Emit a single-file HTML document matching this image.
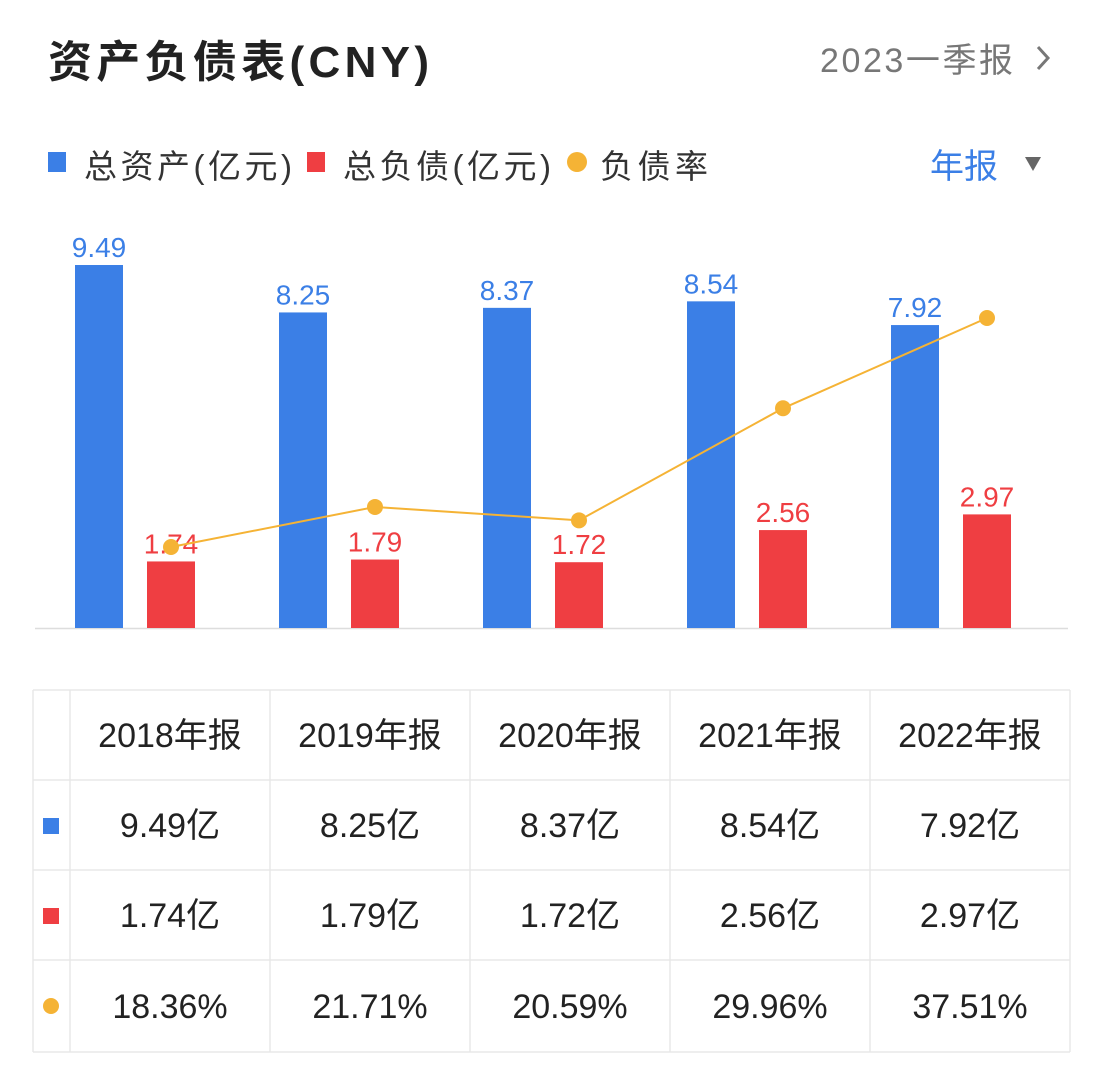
<!DOCTYPE html>
<html><head><meta charset="utf-8"><style>
body{margin:0;background:#fff;width:1096px;height:1077px;overflow:hidden;font-family:"Liberation Sans","Noto Sans CJK SC",sans-serif;}
svg{position:absolute;left:0;top:0;}
</style></head><body>
<svg id="s" width="1096" height="1077">
<text x="48" y="77" font-size="44" font-weight="bold" fill="#222" letter-spacing="1" textLength="382" font-family="Liberation Sans,Noto Sans CJK SC,sans-serif">资产负债表(CNY)</text>
<text x="820" y="72" font-size="34" fill="#777" textLength="193" font-family="Liberation Sans,Noto Sans CJK SC,sans-serif">2023一季报</text>
<path d="M1038 47 L1048 58 L1038 69" fill="none" stroke="#777" stroke-width="3"/>
<g font-size="33" fill="#333" font-family="Liberation Sans,Noto Sans CJK SC,sans-serif">
<rect x="48" y="152" width="18" height="20" fill="#3b7fe6"/>
<text x="84" y="178" textLength="208">总资产(亿元)</text>
<rect x="307" y="152" width="18" height="20" fill="#ef3e42"/>
<text x="343" y="178" textLength="208">总负债(亿元)</text>
<circle cx="577" cy="162" r="10" fill="#f5b335"/>
<text x="600" y="178" textLength="108">负债率</text>
</g>
<text x="930" y="178" font-size="34" fill="#3b7fe6" font-family="Liberation Sans,Noto Sans CJK SC,sans-serif">年报</text>
<path d="M1025 157 L1041 157 L1033 171 Z" fill="#666"/>
<line x1="35" y1="628.5" x2="1068" y2="628.5" stroke="#ddd" stroke-width="1.5"/>
<g id="bars"></g><g id="line"></g><g id="table"></g>
</svg>
<script>
const categories=["2018年报","2019年报","2020年报","2021年报","2022年报"];
const assets=[9.49,8.25,8.37,8.54,7.92];
const liabilities=[1.74,1.79,1.72,2.56,2.97];
const ratio=[18.36,21.71,20.59,29.96,37.51];
const NS="http://www.w3.org/2000/svg";
function mk(tag,attrs,parent,text){const e=document.createElementNS(NS,tag);for(const k in attrs)e.setAttribute(k,attrs[k]);if(text!==undefined)e.textContent=text;parent.appendChild(e);return e;}
const base=628, yv=v=>base-v*38.25, yr=p=>766.6-p*11.96, gx=i=>75+i*204;
const bars=document.getElementById('bars'),line=document.getElementById('line'),tbl=document.getElementById('table');
const lf='"Liberation Sans Narrow","Liberation Sans",sans-serif';
categories.forEach((c,i)=>{
 let r=mk('rect',{x:gx(i),y:yv(assets[i]),width:48,height:assets[i]*38.25,fill:'#3b7fe6'},bars);
 
 
 let t=mk('text',{x:gx(i)+24,y:yv(assets[i])-8,'text-anchor':'middle','font-size':28,fill:'#3b7fe6','font-family':lf},bars,assets[i].toFixed(2));
 
 
 r=mk('rect',{x:gx(i)+72,y:yv(liabilities[i]),width:48,height:liabilities[i]*38.25,fill:'#ef3e42'},bars);
 
 
 t=mk('text',{x:gx(i)+96,y:yv(liabilities[i])-8,'text-anchor':'middle','font-size':28,fill:'#ef3e42','font-family':lf},bars,liabilities[i].toFixed(2));
 
 
});
const pts=ratio.map((p,i)=>(gx(i)+96)+','+yr(p)).join(' ');
const pl=mk('polyline',{points:pts,fill:'none',stroke:'#f5b335','stroke-width':2},line);


ratio.forEach((p,i)=>{const c=mk('circle',{cx:gx(i)+96,cy:yr(p),r:8,fill:'#f5b335'},line);
 
 });
const cols=[33,70,270,470,670,870,1070], rows=[690,780,870,960,1052];
for(let r=0;r<rows.length;r++){const l=mk('line',{x1:33,x2:1070,y1:rows[r],y2:rows[r],stroke:'#e8e8e8','stroke-width':1.5},tbl);
 
 }
for(let c=0;c<cols.length;c++){const l=mk('line',{x1:cols[c],x2:cols[c],y1:690,y2:1052,stroke:'#e8e8e8','stroke-width':1.5},tbl);
 
 }
const ff='"Liberation Sans","Noto Sans CJK SC",sans-serif';
const rowsData=[categories,assets.map(v=>v.toFixed(2)+'亿'),liabilities.map(v=>v.toFixed(2)+'亿'),ratio.map(v=>v.toFixed(2)+'%')];
rowsData.forEach((arr,r)=>{arr.forEach((s,i)=>{const t=mk('text',{x:(cols[i+1]+cols[i+2])/2,y:(rows[r]+rows[r+1])/2+12,'text-anchor':'middle','font-size':34,fill:'#222','font-family':ff},tbl,s);
 
 });});
let m=mk('rect',{x:43,y:818,width:16,height:16,fill:'#3b7fe6'},tbl);


m=mk('rect',{x:43,y:908,width:16,height:16,fill:'#ef3e42'},tbl);


m=mk('circle',{cx:51,cy:1006,r:8,fill:'#f5b335'},tbl);


</script>
</body></html>
